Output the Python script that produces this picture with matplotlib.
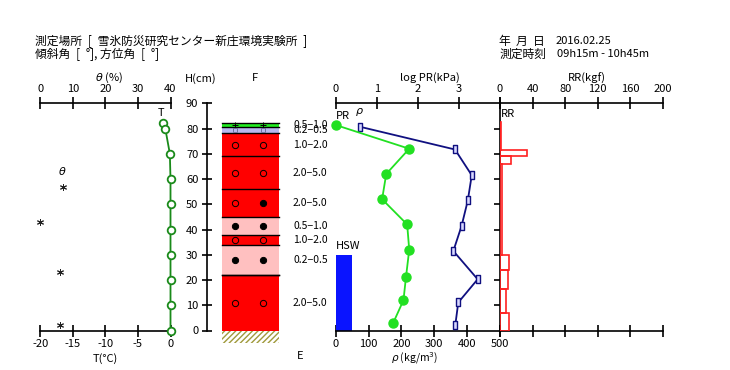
import matplotlib
matplotlib.use('Agg')
import matplotlib.pyplot as plt
from matplotlib.patches import Rectangle
from matplotlib.path import Path

plt.rcParams['font.family'] = ['Liberation Sans Narrow', 'Noto Sans CJK JP', 'DejaVu Sans']
plt.rcParams['font.size'] = 8
plt.rcParams['axes.unicode_minus'] = False
plt.rcParams['hatch.linewidth'] = 1.0

HEAD_FAMILY = ['Noto Sans CJK JP', 'DejaVu Sans']

# ---------------- data ----------------
T_h = [82, 80, 70, 60, 50, 40, 30, 20, 10, 0]
T_val = [-1.1, -0.8, -0.1, 0, 0, 0, 0, 0, 0, 0]
theta_h = [57, 43, 23, 2]
theta_val = [6.9, 0.0, 6.1, 5.9]

layer_top = [82, 80.7, 78.3, 69, 56, 45, 38, 34, 22]
layer_bottom = [80.7, 78.3, 69, 56, 45, 38, 34, 22, 0]
grain_shape_1 = ['+', '□', '○', '○', '○', '●', '○', '●', '○']
grain_shape_2 = ['+', '□', '○', '○', '●', '●', '○', '●', '○']
grain_size = ['0.5−1.0', '0.2−0.5', '1.0−2.0', '2.0−5.0', '2.0−5.0',
              '0.5−1.0', '1.0−2.0', '0.2−0.5', '2.0−5.0']

pr_h = [81.4, 72, 62, 52, 42, 32, 21, 12, 3]
log_pr = [0.0, 1.79, 1.23, 1.13, 1.74, 1.79, 1.71, 1.65, 1.40]
rho_h = [80.7, 71.7, 61.5, 51.5, 41.4, 31.5, 20.3, 11.1, 2.2]
rho = [74, 363, 414, 402, 383, 358, 432, 373, 364]
hsw_height = 30
hsw_width = 50

rr_top = [82.5, 71.5, 69.3, 66, 30, 23.8, 16.5, 7]
rr_bottom = [71.5, 69.3, 66, 30, 23.8, 16.5, 7, 0]
rr = [1.5, 33, 13, 3, 11.5, 9.5, 7.5, 10.5]

theta_ticks = [0, 10, 20, 30, 40]
T_ticks = [-20, -15, -10, -5, 0]
h_ticks = [0, 10, 20, 30, 40, 50, 60, 70, 80, 90]
pr_ticks = [0, 1, 2, 3, 4]
pr_ticklabels = ['0', '1', '2', '3', '']
rho_ticks = [0, 100, 200, 300, 400, 500]
rr_ticks = [0, 40, 80, 120, 160, 200]

# ---------------- layout ----------------
W, H = 730, 370
fig = plt.figure(figsize=(W / 100, H / 100), dpi=100)
Y_TOP, Y_BOT = 103.3, 330.5


def rect(x0, x1):
    return [x0 / W, (H - Y_BOT) / H, (x1 - x0) / W, (Y_BOT - Y_TOP) / H]


def ftext(x, y, s, **kw):
    kw.setdefault('va', 'center')
    fig.text(x / W, 1 - y / H, s, **kw)


LW = 1.2
TL = 9

# ---- left panel: T and theta ----
axT = fig.add_axes(rect(40.3, 170.5))
axT.patch.set_visible(False)
axT.set_xlim(-20, 0)
axT.set_ylim(0, 90)
for s in ['left', 'right', 'top']:
    axT.spines[s].set_visible(False)
axT.spines['bottom'].set_linewidth(LW)
axT.set_yticks([])
axT.set_xticks(T_ticks)
axT.tick_params(axis='x', direction='inout', length=TL, width=LW, pad=1.5, labelsize=8)
axT.plot(T_val, T_h, color='#1a8a1a', lw=1.3, marker='o', ms=5.5, mfc='white',
         mec='#1a8a1a', mew=1.3, clip_on=False, zorder=5)
axT.text(-1.5, 86, 'T', ha='center', va='center', fontsize=8)

axTh = axT.twiny()
axTh.set_xlim(0, 40)
for s in ['left', 'right', 'bottom']:
    axTh.spines[s].set_visible(False)
axTh.spines['top'].set_linewidth(LW)
axTh.set_xticks(theta_ticks)
axTh.tick_params(axis='x', direction='inout', length=TL, width=LW, pad=2, labelsize=8)
axTh.plot(theta_val, theta_h, linestyle='none', marker=(6, 2, 0), ms=5, mec='#222222',
          mew=0.7, clip_on=False)
axT.text(-16.6, 63, r'$\theta$', ha='center', va='center', fontsize=8)

# ---- F column with height axis ----
axF = fig.add_axes(rect(207, 335))
axF.patch.set_visible(False)
axF.set_xlim(0, 1)
axF.set_ylim(0, 90)
for s in ['right', 'top', 'bottom']:
    axF.spines[s].set_visible(False)
axF.spines['left'].set_linewidth(LW)
axF.set_xticks([])
axF.set_yticks(h_ticks)
axF.tick_params(axis='y', direction='inout', length=6.5, width=LW, pad=3, labelsize=8)

col_x0, col_x1 = 0.117, 0.5625
sym_x = [0.219, 0.44]
shape_color = {'+': '#22ee22', '□': '#b8b8f0', '○': '#ff0000', '●': '#ffc0c0'}
for top, bot, s1, s2, gs in zip(layer_top, layer_bottom, grain_shape_1, grain_shape_2, grain_size):
    axF.add_patch(Rectangle((col_x0, bot), col_x1 - col_x0, top - bot,
                            facecolor=shape_color[s1], edgecolor='none', zorder=1))
    mid = (top + bot) / 2
    for sx, s in zip(sym_x, [s1, s2]):
        if s == '○':
            axF.plot(sx, mid, marker='o', ms=4.5, mfc='none', mec='black', mew=0.7, zorder=3)
        elif s == '●':
            axF.plot(sx, mid, marker='o', ms=4.5, mfc='black', mec='black', mew=0.7, zorder=3)
        elif s == '+':
            axF.plot(sx, mid, marker='+', ms=5, mec='black', mew=0.7, zorder=3)
        elif s == '□':
            axF.plot(sx, mid, marker='s', ms=3.5, mfc='none', mec='#7070a0', mew=0.7, zorder=3)
    axF.text(0.672, mid, gs, ha='left', va='center', fontsize=7.5)
for b in layer_top + [layer_bottom[-2]]:
    axF.plot([col_x0, col_x1], [b, b], color='black', lw=1.0, zorder=2)
axF.add_patch(Rectangle((col_x0, -4.8), col_x1 - col_x0, 4.8, facecolor='none',
                        edgecolor='#a09a3c', lw=0, hatch='//////', clip_on=False))

# ---- middle panel: rho and log PR ----
axR = fig.add_axes(rect(335.7, 500))
axR.patch.set_visible(False)
axR.set_xlim(0, 500)
axR.set_ylim(0, 90)
for s in ['left', 'top']:
    axR.spines[s].set_visible(False)
axR.spines['bottom'].set_linewidth(LW)
axR.spines['right'].set_linewidth(LW)
axR.set_xticks(rho_ticks)
axR.tick_params(axis='x', direction='inout', length=TL, width=LW, pad=1.5, labelsize=8)
axR.yaxis.tick_right()
axR.set_yticks(h_ticks[1:-1])
axR.tick_params(axis='y', direction='in', length=4.5, width=LW, labelright=False)

axR.bar(0, hsw_height, width=hsw_width, align='edge', color='#0a14ff', zorder=2)
axR.text(0, 33.4, 'HSW', ha='left', va='center', fontsize=8)

rect_marker = Path([(-0.3, -0.55), (0.3, -0.55), (0.3, 0.55), (-0.3, 0.55), (-0.3, -0.55)],
                   [Path.MOVETO, Path.LINETO, Path.LINETO, Path.LINETO, Path.CLOSEPOLY])
axR.plot(rho, rho_h, color='#101080', lw=1.3, marker=rect_marker, ms=5.5,
         mfc='#d8d8ff', mec='#101080', mew=1.0, zorder=4)
axR.text(1, 85, 'PR', ha='left', va='center', fontsize=8)
axR.text(72, 86.5, r'$\rho$', ha='center', va='center', fontsize=8)

axP = axR.twiny()
axP.set_xlim(0, 4)
for s in ['left', 'right', 'bottom']:
    axP.spines[s].set_visible(False)
axP.spines['top'].set_linewidth(LW)
axP.set_xticks(pr_ticks)
axP.set_xticklabels(pr_ticklabels)
axP.tick_params(axis='x', direction='inout', length=TL, width=LW, pad=2, labelsize=8)
axP.plot(log_pr, pr_h, color='#22e022', lw=1.3, marker='o', ms=6.5, mfc='#22e022',
         mec='#22e022', clip_on=False, zorder=4)

# ---- RR panel ----
axRR = fig.add_axes(rect(500, 663))
axRR.patch.set_visible(False)
axRR.set_xlim(0, 200)
axRR.set_ylim(0, 90)
for s in ['left', 'right']:
    axRR.spines[s].set_visible(False)
axRR.spines['top'].set_linewidth(LW)
axRR.spines['bottom'].set_linewidth(LW)
axRR.set_yticks([])
axRR.set_xticks(rr_ticks)
axRR.tick_params(axis='x', which='both', direction='inout', length=TL, width=LW, pad=2,
                 labelsize=8, top=True, labeltop=True, bottom=True, labelbottom=False)
for top, bot, v in zip(rr_top, rr_bottom, rr):
    axRR.barh((top + bot) / 2, v, height=top - bot, left=0, fill=False,
              edgecolor='#ff2020', lw=1.2, zorder=3)
axRR.text(1, 85.6, 'RR', ha='left', va='center', fontsize=8)

# ---- titles ----
ftext(35, 41, '測定場所\u2002[\u2002雪氷防災研究センター新庄環境実験所\u2002]', fontsize=8.5, family=HEAD_FAMILY)
ftext(35, 54, '傾斜角\u2002[\u2002°], 方位角\u2002[\u2002°]', fontsize=8.5, family=HEAD_FAMILY)
ftext(499, 41, '年  月  日', fontsize=8.5, family=HEAD_FAMILY)
ftext(556, 41, '2016.02.25', fontsize=8)
ftext(499, 54, '測定時刻', fontsize=8.5, family=HEAD_FAMILY)
ftext(557, 54, '09h15m - 10h45m', fontsize=8)

ftext(109, 78, r'$\theta$ (%)', ha='center', fontsize=8)
ftext(200.5, 79, 'H(cm)', ha='center', fontsize=8)
ftext(255, 78, 'F', ha='center', fontsize=8)
ftext(430, 77.5, 'log PR(kPa)', ha='center', fontsize=8)
ftext(587, 78.5, 'RR(kgf)', ha='center', fontsize=8)
ftext(105, 358.5, 'T(°C)', ha='center', fontsize=8)
ftext(415, 358, r'$\rho$ (kg/m$^3$)', ha='center', fontsize=7.5)
ftext(300.5, 356, 'E', ha='center', fontsize=8)

fig.savefig('out.png', dpi=100)
